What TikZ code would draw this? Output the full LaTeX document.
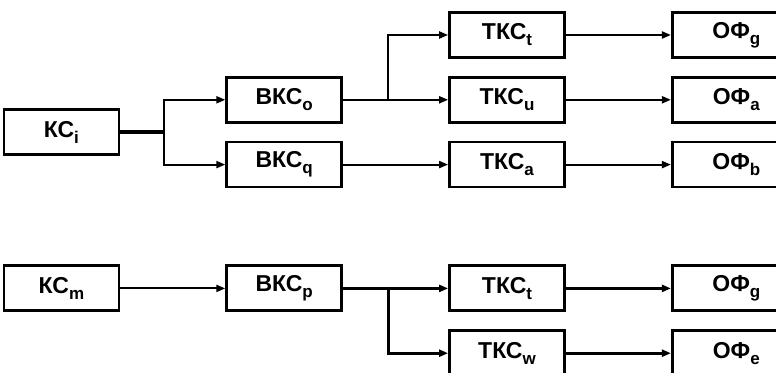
\documentclass[tikz,border=0pt]{standalone}
\usepackage{fontspec}
\setmainfont{Liberation Sans}
\usetikzlibrary{arrows.meta, positioning, calc}
\newcommand{\lowidx}[1]{\raisebox{-3pt}{\fontsize{8.5}{9}\selectfont #1}}

\begin{document}
\begin{tikzpicture}[node distance=8.5pt and 52.5pt, box/.style={draw, line width=1.4pt, minimum width=57.5pt, minimum height=22.5pt, inner sep=0pt, font=\fontsize{11.5}{14}\selectfont\bfseries}, ofbox/.style={box, minimum width=64pt}, arrow/.style={-{Triangle[length=4.5pt, width=3.5pt]}, line width=1pt}, link/.style={line width=1pt}, thickline/.style={line width=2pt}]

\useasboundingbox (0,0) rectangle (388pt,-186.5pt);

% upper group
\node[box] (tkc1) at (253.5pt,-17.5pt) {ТКС\lowidx{t}};
\node[box, below=of tkc1] (tkc2) {ТКС\lowidx{u}};
\node[box, below=of tkc2] (tkc3) {ТКС\lowidx{a}};
\node[ofbox, right=of tkc1] (of1) {ОФ\lowidx{g}\hspace{6.5pt}};
\node[ofbox, right=of tkc2] (of2) {ОФ\lowidx{a}\hspace{6.5pt}};
\node[ofbox, right=of tkc3] (of3) {ОФ\lowidx{b}\hspace{6.5pt}};
\node[box, left=of tkc2] (vks1) {ВКС\lowidx{o}};
\node[box, left=of tkc3] (vks2) {ВКС\lowidx{q}};
\coordinate (mid) at ($(vks1.west)!0.5!(vks2.west)$);
\node[box, left=of mid] (ks1) {КС\lowidx{i}};

% lower group
\node[box, below=38pt of tkc3] (tkc4) {ТКС\lowidx{t}};
\node[box, below=of tkc4] (tkc5) {ТКС\lowidx{w}};
\node[ofbox, right=of tkc4] (of4) {ОФ\lowidx{g}\hspace{6.5pt}};
\node[ofbox, right=of tkc5] (of5) {ОФ\lowidx{e}\hspace{6.5pt}};
\node[box, left=of tkc4] (vks3) {ВКС\lowidx{p}};
\node[box, left=of vks3] (ks2) {КС\lowidx{m}};

% connectors
\coordinate[right=22pt of ks1] (s1);
\coordinate[right=22.5pt of vks1] (s2);
\coordinate[right=22.5pt of vks3] (s3);
\draw[thickline] (ks1) -- (s1);
\draw[arrow] (s1) |- (vks1);\draw[arrow] (s1) |- (vks2);
\draw[link] (vks1) -- (s2);\draw[arrow] (s2) -- (tkc2);\draw[arrow] (s2) |- (tkc1);
\draw[arrow] (vks2) -- (tkc3);
\draw[arrow] (tkc1) -- (of1);\draw[arrow] (tkc2) -- (of2);\draw[arrow] (tkc3) -- (of3);
\draw[arrow] (ks2) -- (vks3);
\draw[link, line width=1.5pt] (vks3) -- (s3);\draw[arrow, line width=1.5pt] (s3) -- (tkc4);\draw[arrow, line width=1.5pt] (s3) |- (tkc5);
\draw[arrow, line width=1.5pt] (tkc4) -- (of4);\draw[arrow, line width=1.5pt] (tkc5) -- (of5);

\end{tikzpicture}
\end{document}
